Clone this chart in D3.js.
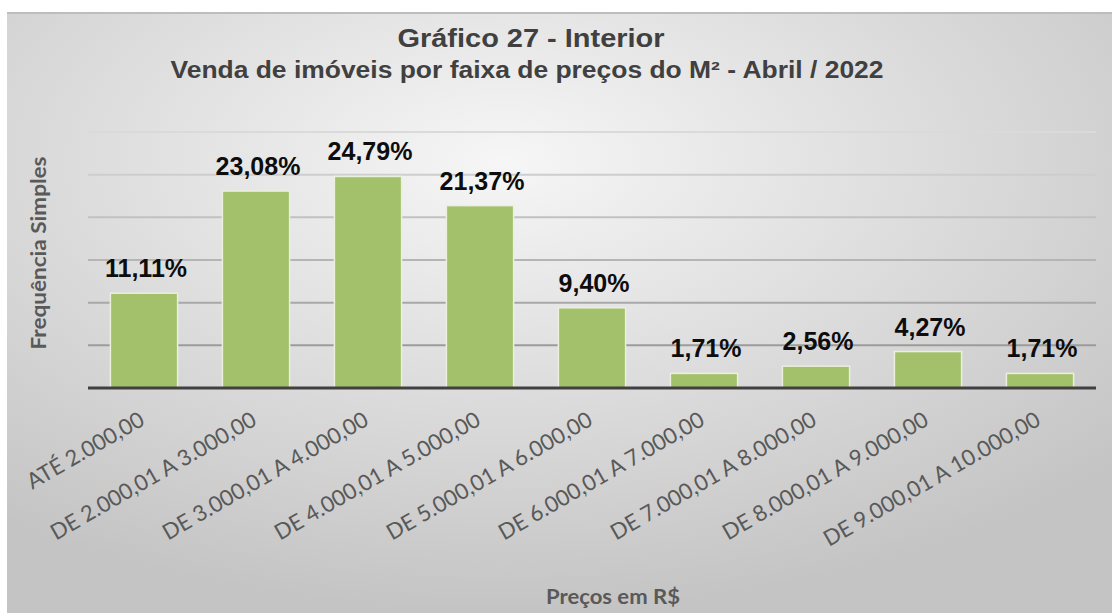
<!DOCTYPE html>
<html>
<head>
<meta charset="utf-8">
<script src="https://cdn.jsdelivr.net/npm/d3@7"></script>
<style>
  body { margin: 0; background: #fff; }
  .chart { width: 1112px; height: 613px; }
  .title { font-family: "Liberation Sans", Arial, sans-serif; font-weight: bold; fill: #404040; }
  .val { font-family: "Liberation Sans", Arial, sans-serif; font-weight: bold; font-size: 25px; fill: #0d0d0d; }
  .cat { font-family: Lato, "Open Sans", sans-serif; font-size: 22px; fill: #595959; }
  .axis-title { font-family: Lato, "Open Sans", sans-serif; font-weight: bold; font-size: 20px; fill: #595959; }
</style>
</head>
<body>
<div class="chart"></div>
<script>
// data
var categories = [
  "ATÉ 2.000,00",
  "DE 2.000,01 A 3.000,00",
  "DE 3.000,01 A 4.000,00",
  "DE 4.000,01 A 5.000,00",
  "DE 5.000,01 A 6.000,00",
  "DE 6.000,01 A 7.000,00",
  "DE 7.000,01 A 8.000,00",
  "DE 8.000,01 A 9.000,00",
  "DE 9.000,01 A 10.000,00"
];
var shares = [11.11, 23.08, 24.79, 21.37, 9.40, 1.71, 2.56, 4.27, 1.71];
var yTicks = [0, 5, 10, 15, 20, 25, 30];

var titleLine1 = "Gráfico 27 - Interior";
var titleLine2 = "Venda de imóveis por faixa de preços do M² - Abril / 2022";
var yTitle = "Frequência Simples";
var xTitle = "Preços em R$";

var W = 1112, H = 613;
var plot = { left: 88, right: 1096, top: 132, bottom: 388 };

var svg = d3.select(".chart").append("svg")
    .attr("width", W)
    .attr("height", H);

var defs = svg.append("defs");

var bg = defs.append("radialGradient")
    .attr("id", "bg")
    .attr("cx", "45%").attr("cy", "25%").attr("r", "75%");
bg.append("stop").attr("offset", "0%").attr("stop-color", "#f6f6f6");
bg.append("stop").attr("offset", "100%").attr("stop-color", "#c4c4c4");

var gridGrad = defs.append("linearGradient")
    .attr("id", "gridGrad")
    .attr("gradientUnits", "userSpaceOnUse")
    .attr("x1", 0).attr("x2", 0)
    .attr("y1", plot.top).attr("y2", plot.bottom);
gridGrad.append("stop").attr("offset", "0%").attr("stop-color", "#dadada");
gridGrad.append("stop").attr("offset", "100%").attr("stop-color", "#8f8f8f");

// chart area
svg.append("rect")
    .attr("x", 7).attr("y", 12)
    .attr("width", W - 7).attr("height", H - 12)
    .attr("fill", "url(#bg)");
svg.append("line")
    .attr("x1", 7).attr("x2", W)
    .attr("y1", 13).attr("y2", 13)
    .attr("stroke", "#bdbdbd")
    .attr("stroke-width", 2);

// scales
var x = d3.scaleBand()
    .domain(categories)
    .range([plot.left, plot.right])
    .paddingInner(0.4)
    .paddingOuter(0.2);

var y = d3.scaleLinear()
    .domain([0, 30])
    .range([plot.bottom, plot.top]);

// gridlines
svg.append("g")
    .attr("class", "grid")
    .selectAll("line")
    .data(yTicks.slice(1))
    .enter().append("line")
    .attr("x1", plot.left).attr("x2", plot.right)
    .attr("y1", function(d) { return y(d); })
    .attr("y2", function(d) { return y(d); })
    .attr("stroke", "url(#gridGrad)")
    .attr("stroke-width", 2);

// bars
svg.append("g")
    .selectAll("rect")
    .data(shares)
    .enter().append("rect")
    .attr("x", function(d, i) { return x(categories[i]); })
    .attr("y", function(d) { return y(d); })
    .attr("width", x.bandwidth())
    .attr("height", function(d) { return y(0) - y(d); })
    .attr("fill", "#a3c16b")
    .attr("stroke", "#e9f0dc")
    .attr("stroke-width", 1.5);

// x axis baseline + category labels
var xAxis = svg.append("g")
    .attr("transform", "translate(0," + plot.bottom + ")")
    .call(d3.axisBottom(x).tickSize(0).tickFormat(""));
xAxis.select(".domain")
    .attr("stroke", "#404040")
    .attr("stroke-width", 3)
    .attr("d", "M" + plot.left + ",0H" + plot.right);

svg.append("g")
    .selectAll("text")
    .data(categories)
    .enter().append("text")
    .attr("class", "cat")
    .attr("text-anchor", "end")
    .attr("transform", function(d) {
        return "translate(" + (x(d) + x.bandwidth() / 2 + 2) + "," + (plot.bottom + 36) + ") rotate(-30)";
    })
    .text(function(d) { return d; });

// value labels
svg.append("g")
    .selectAll("text")
    .data(shares)
    .enter().append("text")
    .attr("class", "val")
    .attr("text-anchor", "middle")
    .attr("x", function(d, i) { return x(categories[i]) + x.bandwidth() / 2 + 2; })
    .attr("y", function(d) { return y(d) - 16; })
    .text(function(d) { return d3.format(".2f")(d).replace(".", ",") + "%"; });

// titles
svg.append("text")
    .attr("class", "title")
    .attr("x", 531).attr("y", 47)
    .attr("text-anchor", "middle")
    .attr("textLength", 267)
    .attr("lengthAdjust", "spacingAndGlyphs")
    .style("font-size", "26px")
    .text(titleLine1);
svg.append("text")
    .attr("class", "title")
    .attr("x", 527).attr("y", 78)
    .attr("text-anchor", "middle")
    .attr("textLength", 713)
    .attr("lengthAdjust", "spacingAndGlyphs")
    .style("font-size", "23px")
    .text(titleLine2);

svg.append("text")
    .attr("class", "axis-title")
    .attr("text-anchor", "middle")
    .attr("transform", "translate(46,253) rotate(-90)")
    .attr("textLength", 193)
    .attr("lengthAdjust", "spacingAndGlyphs")
    .text(yTitle);

svg.append("text")
    .attr("class", "axis-title")
    .attr("text-anchor", "middle")
    .attr("x", 613).attr("y", 604)
    .attr("textLength", 134)
    .attr("lengthAdjust", "spacingAndGlyphs")
    .text(xTitle);
</script>
</body>
</html>
